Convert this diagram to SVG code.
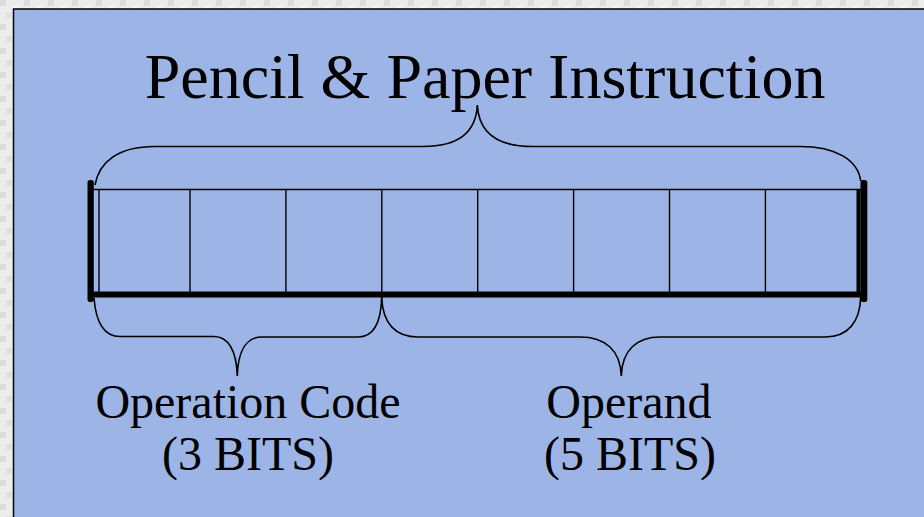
<svg xmlns="http://www.w3.org/2000/svg" width="924" height="517" viewBox="0 0 924 517">
  <defs>
    <pattern id="noise" width="24" height="24" patternUnits="userSpaceOnUse">
      <rect width="24" height="24" fill="#ececec"/>
      <rect x="0" y="0" width="6" height="6" fill="#dcdcdc"/>
      <rect x="12" y="6" width="6" height="6" fill="#f8f8f8"/>
      <rect x="6" y="12" width="6" height="6" fill="#e0e0e0"/>
      <rect x="18" y="18" width="6" height="6" fill="#fafafa"/>
    </pattern>
    <style>
      .brace { fill: none; stroke: #000; stroke-width: 1.6; }
      .thin { stroke: #000; stroke-width: 1.4; }
      .t { font-family: "Liberation Serif", "Times New Roman", serif; fill: #000; text-anchor: middle; }
    </style>
  </defs>
  <rect width="924" height="517" fill="url(#noise)"/>
  <rect x="13.5" y="9" width="930" height="530" fill="#9db4e6" stroke="#000" stroke-width="1.5"/>

  <g id="title">
    <text class="t" x="485" y="98" font-size="64">Pencil &amp; Paper Instruction</text>
  </g>

  <g id="register">
    <line class="thin" x1="93" y1="189.5" x2="861" y2="189.5"/>
    <line class="thin" x1="99" y1="189.5" x2="99" y2="294"/>
    <line x1="858.5" y1="189.5" x2="858.5" y2="294" stroke="#000" stroke-width="4"/>
    <line class="thin" x1="190" y1="189.5" x2="190" y2="294"/>
    <line class="thin" x1="285.9" y1="189.5" x2="285.9" y2="294"/>
    <line class="thin" x1="381.8" y1="189.5" x2="381.8" y2="294"/>
    <line class="thin" x1="477.7" y1="189.5" x2="477.7" y2="294"/>
    <line class="thin" x1="573.6" y1="189.5" x2="573.6" y2="294"/>
    <line class="thin" x1="669.5" y1="189.5" x2="669.5" y2="294"/>
    <line class="thin" x1="765.4" y1="189.5" x2="765.4" y2="294"/>
    <line x1="90" y1="294.5" x2="864" y2="294.5" stroke="#000" stroke-width="6"/>
    <rect x="87.5" y="180" width="6.3" height="122" rx="2.5" fill="#000"/>
    <rect x="860.5" y="180" width="6.8" height="122" rx="2.5" fill="#000"/>
  </g>

  <g id="connectors">
    <path class="brace" d="M95,185 C99,162 118,146.5 155,146.5 L423,146.5 C455,146.5 476,135 477.3,105 C479,135 500,146.5 532,146.5 L800,146.5 C836,146.5 858,160 860.7,181"/>
    <path class="brace" d="M94,298 C96,324 105,336.5 120,336.5 L214,336.5 C228,336.5 236.5,350 237.3,376 C238,350 247,337 262,337 L358,337 C372,337 381,325 381.7,297"/>
    <path class="brace" d="M381.7,297 C382.5,324 396,337 418,337 L580,337 C605,337 620.5,350 621.3,376 C622,350 637,337 660,337 L825,337 C848,337 860,322 860.7,297"/>
  </g>

  <g id="opcode-label">
    <text class="t" x="248" y="418" font-size="48">Operation Code</text>
    <text class="t" x="248" y="470" font-size="48">(3 BITS)</text>
  </g>
  <g id="operand-label">
    <text class="t" x="629" y="418" font-size="48">Operand</text>
    <text class="t" x="630" y="470" font-size="48">(5 BITS)</text>
  </g>
</svg>
